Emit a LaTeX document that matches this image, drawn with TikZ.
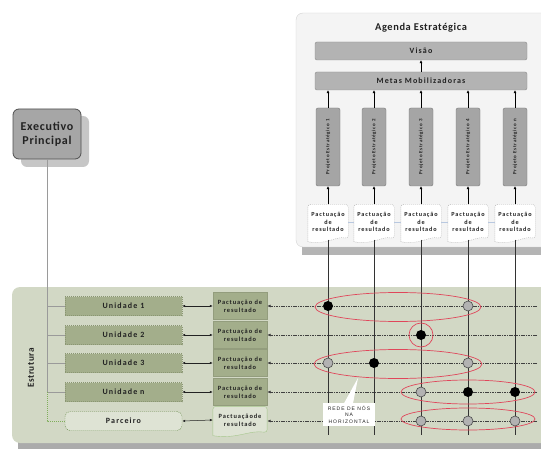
\documentclass[tikz,border=0pt]{standalone}
\usepackage{fontspec}
\setmainfont{Carlito}
\newfontfamily\titlefont[LetterSpace=6]{Carlito}
\newfontfamily\boxfont[LetterSpace=14]{Carlito}
\newfontfamily\notefont[LetterSpace=20]{Liberation Sans}
\usetikzlibrary{arrows.meta,calc}

\definecolor{agendaFill}{HTML}{F4F4F4}
\definecolor{agendaLine}{HTML}{D2D2D2}
\definecolor{shadowGray}{HTML}{B4B4B4}
\definecolor{barFill}{HTML}{B3B3B3}
\definecolor{barLine}{HTML}{8C8C8C}
\definecolor{projFill}{HTML}{A5A5A5}
\definecolor{projLine}{HTML}{7A7A7A}
\definecolor{execFill}{HTML}{A6A6A6}
\definecolor{execLine}{HTML}{4F4F4F}
\definecolor{execShadow}{HTML}{C6C6C6}
\definecolor{panelFill}{HTML}{D2D8C5}
\definecolor{panelShadow}{HTML}{ABABAB}
\definecolor{unitFill}{HTML}{A3AE8B}
\definecolor{unitLine}{HTML}{8A9672}
\definecolor{parcFill}{HTML}{DEE3D4}
\definecolor{treeGray}{HTML}{9A9A9A}
\definecolor{treeGreen}{HTML}{7FAE5A}
\definecolor{ringRed}{HTML}{E0465A}
\definecolor{txtDark}{HTML}{222222}
\definecolor{linkBlue}{HTML}{B8C8E0}
\definecolor{nodeGray}{HTML}{B2B2B2}

\tikzset{
  bar/.style={draw=barLine, fill=barFill, rounded corners=2pt, minimum width=212pt,
    minimum height=18pt, inner sep=0pt, font=\boxfont\bfseries\fontsize{8}{9}\selectfont, text=txtDark},
  proj/.style={draw=projLine, fill=projFill, rounded corners=2pt, minimum width=24pt,
    minimum height=78pt, inner sep=0pt, font=\boxfont\bfseries\fontsize{5}{6}\selectfont, text=txtDark},
  toppact/.style={minimum width=40pt, minimum height=35pt, inner sep=0pt, align=center,
    font=\boxfont\bfseries\fontsize{6.2}{7.8}\selectfont, text=txtDark},
  docline/.style={draw=black!30, dash pattern=on 1pt off 1pt, line width=0.4pt},
  unit/.style={draw=unitLine, dash pattern=on 1pt off 1pt, fill=unitFill, minimum width=117pt,
    minimum height=19pt, inner sep=0pt, font=\boxfont\bfseries\fontsize{8}{9}\selectfont, text=txtDark},
  rowpact/.style={fill=unitFill, draw=unitFill!90!black, line width=0.3pt, minimum width=54pt,
    minimum height=27pt, inner sep=0pt, align=center,
    font=\boxfont\bfseries\fontsize{6.4}{8}\selectfont, text=txtDark},
  uparrow/.style={draw=black, line width=0.6pt, -{Latex[length=3pt,width=3pt]}},
  dbl/.style={draw=txtDark, line width=0.5pt, {Latex[length=3pt,width=2.5pt]}-{Latex[length=3pt,width=2.5pt]}},
  hline/.style={draw=black!75, line width=1pt, dash pattern=on 1.6pt off 0.8pt, -{Latex[length=3.5pt,width=3pt]}},
  vline/.style={draw=black!80, line width=0.8pt},
  tree/.style={draw=treeGray, line width=0.6pt},
  treedash/.style={draw=treeGreen, line width=0.6pt, dash pattern=on 1pt off 1pt},
  blk/.style={circle, fill=black, inner sep=0pt, minimum size=10pt},
  gry/.style={circle, fill=nodeGray, draw=black!70, line width=0.6pt, inner sep=0pt, minimum size=10pt},
  ring/.style={draw=ringRed, line width=0.7pt},
}

\begin{document}
\begin{tikzpicture}[x=1pt, y=-1pt]
\useasboundingbox (0,0) rectangle (541,449);

% ---------- strategic agenda panel ----------
\fill[shadowGray] (302,22) rectangle (560,255);
\draw[agendaLine, fill=agendaFill, rounded corners=7pt] (296,13) rectangle (570,247);
\node[font=\titlefont\bfseries\fontsize{10.4}{12}\selectfont, text=txtDark] (title) at (421,28) {Agenda Estratégica};
\node[bar] (visao) at (421,51) {Visão};
\node[bar] (metas) at (421,81) {Metas Mobilizadoras};
\draw[uparrow] (metas.north) -- (visao.south);

\foreach \i/\x/\lab in {1/328/Projeto Estratégico 1, 2/374/Projeto Estratégico 2,
    3/421/Projeto Estratégico 3, 4/468/Projeto Estratégico 4, 5/515/Projeto Estratégico n}{
  \node[proj] (p\i) at (\x,147) {\rotatebox{90}{\lab}};
  \draw[uparrow] (p\i.north) -- (p\i.north |- metas.south);
  \node[toppact] (tp\i) at (\x,222) {Pactuação\\de\\resultado};
  \draw[docline, fill=white, rounded corners=3pt]
    ($(tp\i.south west)+(0,2)$) -- (tp\i.north west) -- (tp\i.north east) -- ($(tp\i.south east)+(0,-1)$)
    [sharp corners] .. controls ($(tp\i.south)+(8,-4)$) and ($(tp\i.south)+(-2,6)$) .. ($(tp\i.south west)+(0,2)$);
  \node[toppact] at (tp\i) {Pactuação\\de\\resultado};
  \draw[uparrow] (tp\i.north) -- (p\i.south);
}
\foreach \a/\b in {1/2,2/3,3/4,4/5}{
  \draw[linkBlue, line width=0.5pt] (tp\a.east) -- (tp\b.west);
}

% ---------- executive ----------
\fill[execShadow, rounded corners=6pt] (21,116) rectangle (89,167);
\node[draw=execLine, fill=execFill, line width=0.8pt, rounded corners=6pt, minimum width=68pt,
  minimum height=50pt, inner sep=0pt, align=center, text=txtDark,
  font=\titlefont\bfseries\fontsize{12}{14}\selectfont] (exec) at (47,134) {Executivo\\Principal};

% ---------- structure panel ----------
\fill[panelShadow] (18,292) rectangle (570,449);
\fill[panelFill, rounded corners=8pt] (12,287) rectangle (580,443);
\node[rotate=90, font=\titlefont\bfseries\fontsize{9.2}{10}\selectfont, text=txtDark] (estr) at (31,368) {Estrutura};

\foreach \i/\y/\lab in {1/306/Unidade 1, 2/335/Unidade 2, 3/363/Unidade 3, 4/392/Unidade n}{
  \node[unit] (u\i) at (123.5,\y) {\lab};
  \node[rowpact] (rp\i) at (240,\y) {Pactuação de\\resultado};
  \draw[tree] (exec.south |- u\i.west) -- (u\i.west);
  \draw[dbl] (u\i.east) -- (rp\i.west);
}
\node[unit, draw=treeGreen!80!black, fill=parcFill, rounded corners=5pt] (u5) at (123.5,421) {Parceiro};
\node[rowpact, fill=none, draw=none] (rp5) at (240,420) {};
\draw[draw=treeGreen!70, line width=0.4pt, fill=parcFill, rounded corners=3pt]
  ($(rp5.south west)+(0,2)$) -- (rp5.north west) -- (rp5.north east) -- ($(rp5.south east)+(0,-1)$)
  [sharp corners] .. controls ($(rp5.south)+(10,-4)$) and ($(rp5.south)+(-4,6)$) .. ($(rp5.south west)+(0,2)$);
\node[rowpact, fill=none, draw=none] at (rp5) {Pactuaçãode\\resultado};
\draw[dbl] (u5.east) -- (rp5.west);

\draw[tree] (exec.south) -- (exec.south |- u4.west);
\draw[treedash] (exec.south |- u4.west) -- (exec.south |- u5.west) -- (u5.west);

% ---------- horizontal network lines ----------
\foreach \i/\y in {1/306,2/335,3/363,4/392,5/421}{
  \coordinate (e\i) at (537,\y);
  \draw[hline] (e\i) -- (rp\i.east |- e\i);
}
% vertical lines from the strategic projects
\foreach \i in {1,...,5}{
  \coordinate (v\i) at (tp\i.south |- 0,435);
  \draw[vline] (tp\i.south) -- (v\i);
}

% ---------- red rings ----------
\draw[ring] (398,307) ellipse [x radius=83pt, y radius=14.5pt];
\draw[ring] (421,335) circle [radius=12pt];
\draw[ring] (398,364) ellipse [x radius=84pt, y radius=14.5pt];
\draw[ring] (468,392) ellipse [x radius=67pt, y radius=12pt];
\draw[ring] (468,419) ellipse [x radius=67pt, y radius=11pt];

% ---------- nodes of the network ----------
\node[blk] (n11) at (v1 |- e1) {};
\node[gry] (n14) at (v4 |- e1) {};
\node[blk] (n23) at (v3 |- e2) {};
\node[gry] (n31) at (v1 |- e3) {};
\node[blk] (n32) at (v2 |- e3) {};
\node[gry] (n34) at (v4 |- e3) {};
\node[gry] (n43) at (v3 |- e4) {};
\node[blk] (n44) at (v4 |- e4) {};
\node[blk] (n45) at (v5 |- e4) {};
\node[gry] (n53) at (v3 |- e5) {};
\node[gry] (n54) at (v4 |- e5) {};
\node[gry] (n55) at (v5 |- e5) {};

% ---------- callout ----------
\node[fill=white, minimum width=52pt, minimum height=23pt, inner sep=0pt, align=center,
  font=\notefont\fontsize{5}{6.4}\selectfont, text=txtDark] (rede) at (349,414.5) {REDE DE NÓS\\NA\\HORIZONTAL};
\fill[white] ($(rede.north)+(-5,0.5)$) -- (358,378) -- ($(rede.north)+(4,0.5)$) -- cycle;
\end{tikzpicture}
\end{document}
